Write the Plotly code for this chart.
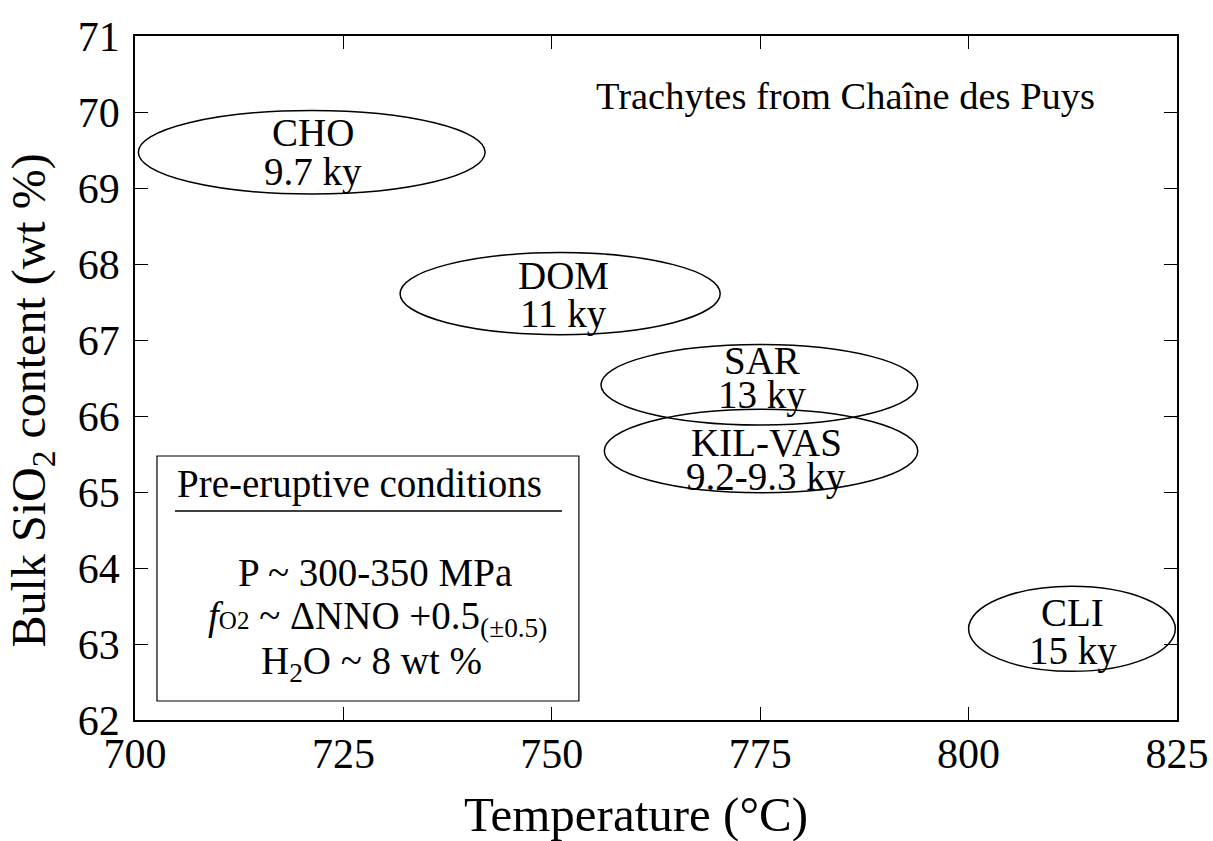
import plotly.graph_objects as go

# ---------------- data ----------------
names = ["CHO", "DOM", "SAR", "KIL-VAS", "CLI"]
ages = ["9.7 ky", "11 ky", "13 ky", "9.2-9.3 ky", "15 ky"]
center_T = [721.2, 751.0, 774.9, 775.1, 812.4]        # °C
center_SiO2 = [69.47, 67.61, 66.41, 65.54, 63.20]     # wt %
half_T = [20.8, 19.2, 19.0, 18.8, 12.4]
half_SiO2 = [0.55, 0.54, 0.53, 0.55, 0.56]

x_ticks = [700, 725, 750, 775, 800, 825]
y_ticks = [62, 63, 64, 65, 66, 67, 68, 69, 70, 71]

title_text = "Trachytes from Chaîne des Puys"
box_title = "Pre-eruptive conditions"
box_lines = [
    "P ~ 300-350 MPa",
    "<i>f</i><span style='font-size:25px'>O2</span> ~ ΔNNO +0.5<sub>(±0.5)</sub>",
    "H<sub>2</sub>O ~ 8 wt %",
]

# ---------------- style ----------------
FONT = "Liberation Serif"
BLACK = "black"
LABEL_SIZE = 39
# label pixel offsets (xshift, yshift of mid-point, half-gap between lines)
label_style = [(1, 0, 19.5), (3, -1, 19.5), (3, 7, 17), (5, -9, 17.5), (1, -3, 19)]

fig = go.Figure()
fig.add_trace(go.Scatter(x=center_T, y=center_SiO2, mode="markers",
                         marker=dict(size=1, opacity=0), hoverinfo="skip",
                         showlegend=False))

shapes = []
annotations = []
for i in range(len(names)):
    shapes.append(dict(type="circle", xref="x", yref="y",
                       x0=center_T[i] - half_T[i], x1=center_T[i] + half_T[i],
                       y0=center_SiO2[i] - half_SiO2[i], y1=center_SiO2[i] + half_SiO2[i],
                       line=dict(color=BLACK, width=1.5), layer="above"))
    xs, ys, hg = label_style[i]
    annotations.append(dict(x=center_T[i], y=center_SiO2[i], xref="x", yref="y",
                            text=names[i], showarrow=False, xshift=xs, yshift=ys + hg,
                            xanchor="center", yanchor="middle",
                            font=dict(family=FONT, size=LABEL_SIZE, color=BLACK)))
    annotations.append(dict(x=center_T[i], y=center_SiO2[i], xref="x", yref="y",
                            text=ages[i], showarrow=False, xshift=xs, yshift=ys - hg,
                            xanchor="center", yanchor="middle",
                            font=dict(family=FONT, size=LABEL_SIZE, color=BLACK)))

# conditions box
shapes.append(dict(type="rect", xref="paper", yref="paper",
                   x0=0.0211, x1=0.426, y0=0.0278, y1=0.386,
                   line=dict(color=BLACK, width=1.2), fillcolor="white", layer="below"))
shapes.append(dict(type="line", xref="paper", yref="paper",
                   x0=0.0384, x1=0.4098, y0=0.3056, y1=0.3056,
                   line=dict(color=BLACK, width=1.5)))
annotations.append(dict(x=0.0384, y=0.345, xref="paper", yref="paper", text=box_title,
                        showarrow=False, xanchor="left", yanchor="middle",
                        font=dict(family=FONT, size=39, color=BLACK)))
box_y = [0.215, 0.148, 0.083]
box_x = [0.230, 0.233, 0.227]
for t, yy, xx in zip(box_lines, box_y, box_x):
    annotations.append(dict(x=xx, y=yy, xref="paper", yref="paper", text=t,
                            showarrow=False, xanchor="center", yanchor="middle",
                            font=dict(family=FONT, size=39, color=BLACK)))

# chart title inside plot
annotations.append(dict(x=0.682, y=0.912, xref="paper", yref="paper", text=title_text,
                        showarrow=False, xanchor="center", yanchor="middle",
                        font=dict(family=FONT, size=38.5, color=BLACK)))

# axis titles
annotations.append(dict(x=0.481, y=-0.138, xref="paper", yref="paper",
                        text="Temperature (°C)", showarrow=False,
                        xanchor="center", yanchor="middle",
                        font=dict(family=FONT, size=49, color=BLACK)))
annotations.append(dict(x=-0.099, y=0.467, xref="paper", yref="paper",
                        text="Bulk SiO<sub>2</sub> content (wt %)", showarrow=False,
                        textangle=-90, xanchor="center", yanchor="middle",
                        font=dict(family=FONT, size=48, color=BLACK)))

axis_common = dict(showline=True, linecolor=BLACK, linewidth=1.5, mirror="ticks",
                   ticks="inside", ticklen=13, tickwidth=1.3, tickcolor=BLACK,
                   showgrid=False, zeroline=False, automargin=False,
                   tickfont=dict(family=FONT, size=42, color=BLACK))

fig.update_layout(
    width=1213, height=841,
    margin=dict(l=135, r=36, t=36, b=121, autoexpand=False),
    paper_bgcolor="white", plot_bgcolor="white",
    xaxis=dict(range=[700, 825], tickvals=x_ticks, ticktext=[str(v) for v in x_ticks],
               ticklabelstandoff=-4, **axis_common),
    yaxis=dict(range=[62, 71], tickvals=y_ticks, ticktext=[str(v) for v in y_ticks],
               ticklabelstandoff=5, **axis_common),
    shapes=shapes,
    annotations=annotations,
    showlegend=False,
)

fig.write_html("out.html", config={"displayModeBar": False},
               post_script="document.body.style.margin='0';document.body.style.overflow='hidden';")
